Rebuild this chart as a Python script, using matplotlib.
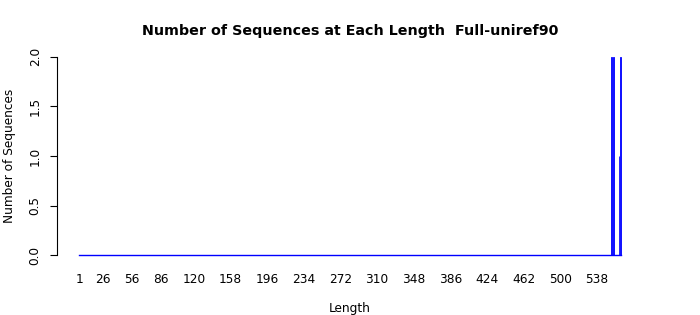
import numpy as np
import matplotlib
matplotlib.use('Agg')
import matplotlib.pyplot as plt

# sequence lengths 1..563, only a few have any sequences
max_length = 563
hit_lengths = [553, 555, 561, 563]
hit_counts = [2, 2, 1, 2]
tick_lengths = [1, 26, 56, 86, 120, 158, 196, 234, 272, 310, 348, 386, 424, 462, 500, 538]

lengths = np.arange(1, max_length + 1)
counts = np.zeros(max_length)
for l, c in zip(hit_lengths, hit_counts):
    counts[l - 1] = c

# R-style barplot positions: width 1, space 0.2
centers = 1.2 * lengths - 0.5

fig = plt.figure(figsize=(7, 3.15), dpi=100)
ax = fig.add_axes([57 / 700, 52 / 315, (643 - 57) / 700, (263 - 49) / 315])

nz = counts > 0
ax.bar(centers[nz], counts[nz], width=1.0, color='blue', edgecolor='blue', linewidth=0.6)
# empty bars collapse onto the baseline
ax.plot([centers[0] - 0.5, centers[-1] + 0.5], [0, 0], color='blue', linewidth=1.0)

span = 1.2 * max_length - 0.2
ax.set_xlim(0.2 - 0.04 * span, 1.2 * max_length + 0.04 * span)
ax.set_ylim(-0.08, 2.08)

tick_pos = [1.2 * t - 0.5 for t in tick_lengths]
ax.set_xticks(tick_pos)
ax.set_xticklabels([str(t) for t in tick_lengths], fontsize=8.7)
ax.tick_params(axis='x', length=0, pad=7)

ax.set_yticks([0, 0.5, 1.0, 1.5, 2.0])
ax.set_yticklabels(['0.0', '0.5', '1.0', '1.5', '2.0'], fontsize=8.7, rotation=90, va='center')
ax.tick_params(axis='y', length=5, width=0.8, pad=6)

for s in ['top', 'right', 'bottom']:
    ax.spines[s].set_visible(False)
ax.spines['left'].set_bounds(0, 2)
ax.spines['left'].set_linewidth(0.8)

ax.set_xlabel('Length', fontsize=8.7, labelpad=12)
ax.set_ylabel('Number of Sequences', fontsize=8.7, labelpad=9)
ax.set_title('Number of Sequences at Each Length  Full-uniref90', fontsize=10.3, fontweight='bold', pad=10)

fig.savefig('out.png', dpi=100)
